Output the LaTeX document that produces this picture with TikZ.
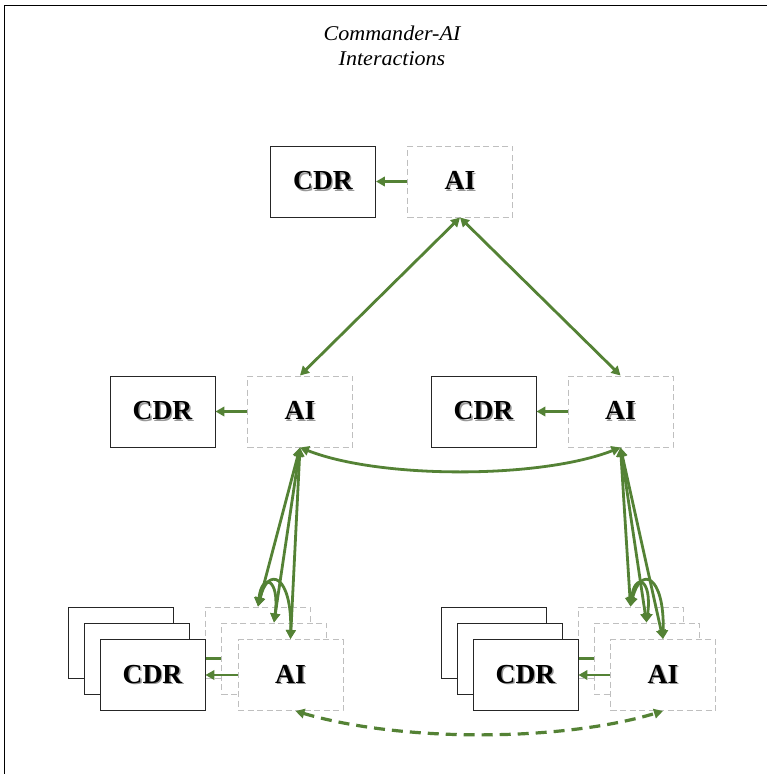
\documentclass[tikz,border=0pt]{standalone}
\usepackage{fontspec}
\setmainfont{Liberation Serif}
\usetikzlibrary{arrows.meta}
\definecolor{linkgreen}{HTML}{548235}
\newcommand{\shd}[1]{\leavevmode\rlap{\kern1.4pt\raisebox{-1.4pt}{\textcolor{black!40}{#1}}}#1}
\newcommand{\bfbox}{\fontsize{27.5}{32}\selectfont\bfseries}
\tikzset{
  cdrbox/.style={draw=black!85, line width=0.9pt, fill=white, minimum width=105pt, minimum height=71pt, inner sep=0pt, font=\bfbox},
  aibox/.style={draw=black!25, line width=1pt, dash pattern=on 6pt off 3.5pt, fill=white, minimum width=105pt, minimum height=71pt, inner sep=0pt, font=\bfbox},
  conn/.style={draw=linkgreen, line width=2.8pt, -{Triangle[length=9pt,width=9.5pt]}},
  biconn/.style={draw=linkgreen, line width=2.8pt, {Triangle[length=9pt,width=9.5pt]}-{Triangle[length=9pt,width=9.5pt]}},
  dashconn/.style={biconn, line width=3.2pt, dash pattern=on 11pt off 7pt},
}
\begin{document}
\begin{tikzpicture}[x=1pt,y=-1pt]
\useasboundingbox (0,0) rectangle (767,774);
\fill[white] (0,0) rectangle (767,774);
\draw[line width=0.9pt] (4,774) -- (4,5) -- (767,5);

\node[font=\fontsize{21}{25}\selectfont\itshape, align=center, xscale=1.05] (title) at (392,46) {Commander-AI\\Interactions};

% top
\node[cdrbox] (CDRT) at (323,181.5) {\shd{CDR}};
\node[aibox] (AIT) at (460,181.5) {\shd{AI}};
\draw[conn] (AIT.west) -- (CDRT.east);

% middle
\node[cdrbox] (CDRL) at (162.5,411.5) {\shd{CDR}};
\node[aibox] (AIL) at (300,411.5) {\shd{AI}};
\draw[conn] (AIL.west) -- (CDRL.east);
\node[cdrbox] (CDRR) at (483.5,411.5) {\shd{CDR}};
\node[aibox] (AIR) at (620.5,411.5) {\shd{AI}};
\draw[conn] (AIR.west) -- (CDRR.east);

% bottom left stack
\node[cdrbox] (CDRa1) at (120.5,642.5) {};
\node[aibox] (AIa1) at (258,642.5) {};
\draw[conn] (AIa1.west) -- (CDRa1.east);
\node[cdrbox] (CDRa2) at (136.5,658.5) {};
\node[aibox] (AIa2) at (274,658.5) {};
\draw[conn] (AIa2.west) -- (CDRa2.east);
\node[cdrbox] (CDRa3) at (152.5,675) {\shd{CDR}};
\node[aibox] (AIa3) at (290.5,675) {\shd{AI}};
\draw[conn] (AIa3.west) -- (CDRa3.east);

% bottom right stack
\node[cdrbox] (CDRb1) at (493.5,642.5) {};
\node[aibox] (AIb1) at (630.5,642.5) {};
\draw[conn] (AIb1.west) -- (CDRb1.east);
\node[cdrbox] (CDRb2) at (509.5,658.5) {};
\node[aibox] (AIb2) at (646.5,658.5) {};
\draw[conn] (AIb2.west) -- (CDRb2.east);
\node[cdrbox] (CDRb3) at (525.5,675) {\shd{CDR}};
\node[aibox] (AIb3) at (663,675) {\shd{AI}};
\draw[conn] (AIb3.west) -- (CDRb3.east);

% top to middle
\draw[biconn] (AIT.south) -- (AIL.north);
\draw[biconn] (AIT.south) -- (AIR.north);

% middle left-right curve
\draw[biconn] (AIL.south) .. controls (380,479) and (540,479) .. (AIR.south);

% middle to bottom
\draw[biconn] (AIL.south) -- (AIa1.north);
\draw[biconn] (AIL.south) -- (AIa2.north);
\draw[biconn] (AIL.south) -- (AIa3.north);
\draw[biconn] (AIR.south) -- (AIb1.north);
\draw[biconn] (AIR.south) -- (AIb2.north);
\draw[biconn] (AIR.south) -- (AIb3.north);

% peer arcs bottom left
\draw[biconn] (AIa1.north) .. controls (262,572) and (280,578) .. (AIa2.north);
\draw[biconn] (AIa1.north) .. controls (268,565) and (292,575) .. (AIa3.north);
% peer arcs bottom right
\draw[biconn] (AIb1.north) .. controls (634.5,572) and (652.5,578) .. (AIb2.north);
\draw[biconn] (AIb1.north) .. controls (640.5,565) and (664.5,575) .. (AIb3.north);

% bottom dashed curve
\draw[dashconn] ([xshift=5pt]AIa3.south) .. controls (400,742) and (560,742) .. (AIb3.south);
\end{tikzpicture}
\end{document}
